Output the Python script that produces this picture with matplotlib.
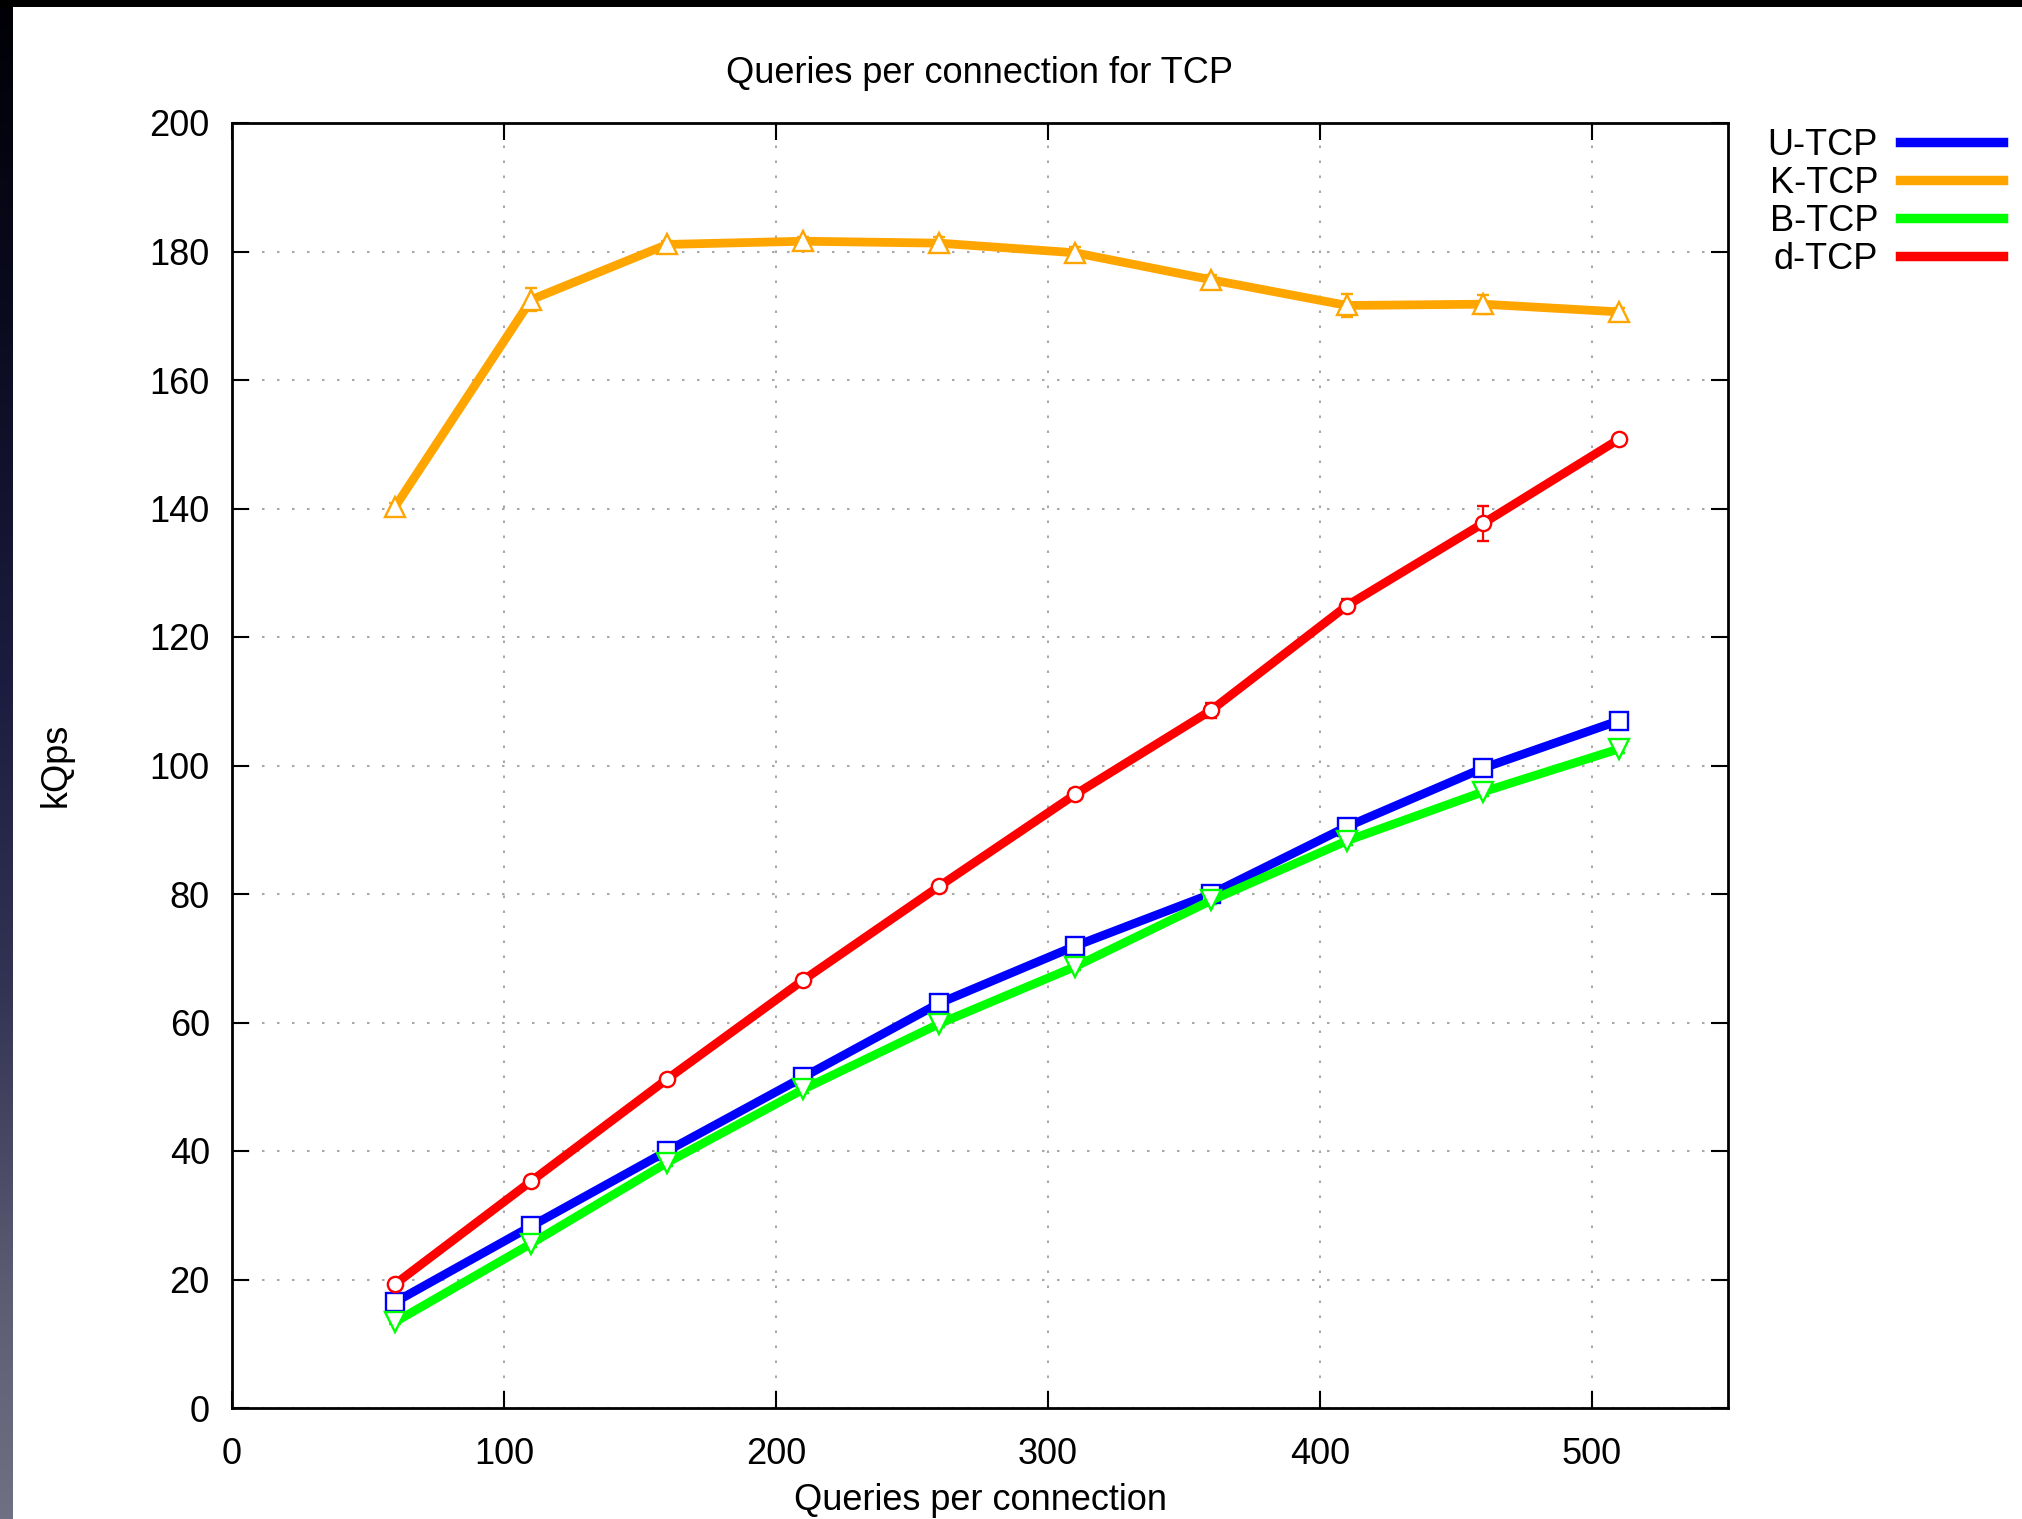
import matplotlib
matplotlib.use("Agg")
import matplotlib.pyplot as plt
from matplotlib.lines import Line2D
from matplotlib.patches import Rectangle
import numpy as np

plt.rcParams['font.family'] = ['Liberation Sans', 'DejaVu Sans']

# queries per connection (x) and throughput in kQps for each stack
queries = [60, 110, 160, 210, 260, 310, 360, 410, 460, 510]
u_tcp = [16.5, 28.3, 40.0, 51.5, 63.0, 71.9, 80.0, 90.5, 99.6, 107.0]
k_tcp = [140.3, 172.5, 181.1, 181.6, 181.3, 179.8, 175.6, 171.6, 171.8, 170.6]
b_tcp = [13.4, 25.6, 38.2, 49.6, 59.8, 68.7, 79.0, 88.3, 95.9, 102.6]
d_tcp = [19.3, 35.3, 51.2, 66.6, 81.2, 95.5, 108.6, 124.9, 137.7, 150.8]

# spread of the measurements
u_err = [0.6, 0.8, 0.6, 0.7, 0.6, 0.8, 0.5, 0.6, 0.7, 0.8]
k_err = [0.5, 1.8, 0.6, 0.7, 0.9, 0.9, 0.8, 1.8, 1.5, 0.6]
b_err = [0.4, 0.5, 0.5, 0.6, 0.5, 0.6, 0.6, 0.6, 0.7, 0.7]
d_err = [0.6, 0.7, 0.7, 0.8, 0.7, 0.8, 1.2, 1.0, 2.7, 0.6]

series = [
    ('U-TCP', u_tcp, u_err, '#0000ff', 's', 13),
    ('K-TCP', k_tcp, k_err, '#ffa500', '^', 14),
    ('B-TCP', b_tcp, b_err, '#00ff00', 'v', 14),
    ('d-TCP', d_tcp, d_err, '#ff0000', 'o', 11),
]

W, H = 2022, 1519
fig = plt.figure(figsize=(W / 100, H / 100), dpi=100)
ax = fig.add_axes([232 / W, 1 - 1408 / H, (1728 - 232) / W, (1408 - 123) / H])

for name, vals, err, col, mk, ms in series:
    ax.errorbar(queries, vals, yerr=err, fmt=mk + '-', color=col, lw=6.3,
                ms=ms, mfc='white', mec=col, mew=1.7,
                elinewidth=1.6, capsize=4.5, capthick=1.6, zorder=3)

ax.set_xlim(0, 550)
ax.set_ylim(0, 200)
ax.set_xticks(range(0, 501, 100))
ax.set_yticks(range(0, 201, 20))
ax.tick_params(direction='in', length=12, width=1.5, top=True, right=True,
               labelsize=26)
ax.tick_params(axis='x', pad=21)
ax.tick_params(axis='y', pad=16)
for sp in ax.spines.values():
    sp.set_linewidth(2)
ax.grid(True, color='#a8a8a8', linestyle=(0, (1.2, 6)), linewidth=1.5)
ax.set_axisbelow(True)

fig.text(980 / W, 1 - 83 / H, 'Queries per connection for TCP',
         ha='center', va='baseline', fontsize=26)
ax.set_xlabel('Queries per connection', fontsize=26)
ax.xaxis.label.set_va('baseline')
ax.xaxis.set_label_coords(0.5, (1408 - 1510) / (1408 - 123))
fig.text(56 / W, 1 - 765 / H, 'kQps', rotation=90, ha='center', va='center',
         fontsize=26)

handles = [Line2D([], [], color=s[3], lw=6.8) for s in series]
ax.legend(handles, [s[0] for s in series], loc='upper right',
          bbox_to_anchor=(2003 / W, 1 - 128 / H), bbox_transform=fig.transFigure,
          frameon=False, fontsize=26, markerfirst=False, handlelength=2.86,
          handletextpad=0.6, labelspacing=0.08, borderpad=0, borderaxespad=0)

# dark screen edge along the top and the left side
fig.patches.append(Rectangle((0, 1 - 7 / H), 1, 7 / H, transform=fig.transFigure,
                             facecolor='black', edgecolor='none', zorder=10))
edge = fig.add_axes([0, 0, 13 / W, 1])
stops = np.array([0.0, 0.2, 0.45, 0.65, 0.85, 1.0])
rgb = np.array([[0.0, 0.0, 0.02], [0.04, 0.04, 0.12], [0.11, 0.11, 0.25],
                [0.2, 0.2, 0.33], [0.36, 0.36, 0.45], [0.44, 0.44, 0.52]])
t = np.linspace(0, 1, 400)
grad = np.stack([np.interp(t, stops, rgb[:, i]) for i in range(3)], axis=-1)
edge.imshow(grad[:, None, :], aspect='auto', extent=(0, 1, 1, 0))
edge.axis('off')

fig.savefig('out.png', dpi=100)
